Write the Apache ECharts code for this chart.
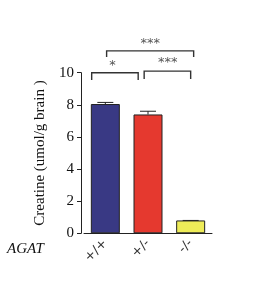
<!DOCTYPE html>
<html>
<head>
<meta charset="utf-8">
<script src="https://cdn.jsdelivr.net/npm/echarts@6/dist/echarts.min.js"></script>
<style>
  html, body { margin: 0; padding: 0; background: #fff; }
  #main { width: 273px; height: 291px; }
</style>
</head>
<body>
<div id="main"></div>
<script>
// data
var genotypes = ['+/+', '+/-', '-/-'];
var creatine = [8.05, 7.4, 0.8];
var errUpper = [8.15, 7.6, 0.8];
var barColors = ['#393984', '#e5392f', '#eeec58'];
var yTicks = [0, 2, 4, 6, 8, 10];
// significance brackets: [xStart, xEnd, yTop, yLeg] in category units
var brackets = [
  [-0.32, 0.77, 10.0, 9.54],
  [0.91, 2.0, 10.1, 9.6],
  [0.03, 2.07, 11.36, 10.97]
];
var starPos = [
  [0.17, 10.43],
  [1.46, 10.6],
  [1.05, 11.84]
];
var starText = ['*', '***', '***'];

var chart = echarts.init(document.getElementById('main'));

var option = {
  animation: false,
  grid: { left: 84, right: 61, top: 72.7, bottom: 57.7, containLabel: false },
  xAxis: [{
    type: 'category',
    data: genotypes,
    axisLine: { lineStyle: { color: '#222', width: 1 } },
    axisTick: { alignWithLabel: true, length: 4, lineStyle: { color: '#222' } },
    axisLabel: {
      rotate: 45, margin: 8, color: '#333',
      fontFamily: 'DejaVu Sans', fontSize: 13
    }
  }, {
    type: 'value', min: -0.5, max: 2.5, show: false
  }],
  yAxis: {
    type: 'value',
    min: 0, max: 10, interval: 2,
    offset: 3,
    name: 'Creatine (umol/g brain )',
    nameLocation: 'middle',
    nameGap: 33,
    nameTextStyle: { fontFamily: 'Liberation Serif', fontSize: 15, color: '#111' },
    axisLine: { show: true, onZero: false, lineStyle: { color: '#222', width: 1 } },
    axisTick: { show: true, length: 4, lineStyle: { color: '#222' } },
    axisLabel: {
      margin: 7, color: '#111',
      fontFamily: 'Liberation Serif', fontSize: 15,
      formatter: function (v) { return yTicks.indexOf(v) >= 0 ? v : ''; }
    },
    splitLine: { show: false }
  },
  graphic: [{
    type: 'text', left: 7, top: 242,
    style: { text: 'AGAT', fontFamily: 'Liberation Serif', fontStyle: 'italic', fontSize: 15, fill: '#111' }
  }],
  series: [{
    type: 'bar',
    barWidth: 29,
    data: creatine.map(function (v, i) {
      return { value: v, itemStyle: { color: barColors[i] } };
    }),
    itemStyle: { borderColor: '#222', borderWidth: 1 }
  }, {
    type: 'custom',
    clip: false,
    data: creatine,
    renderItem: function (params, api) {
      var i = params.dataIndex;
      var base = api.coord([i, creatine[i]]);
      var top = api.coord([i, errUpper[i]]);
      var w = 8;
      return {
        type: 'group',
        children: [{
          type: 'line',
          shape: { x1: top[0], y1: base[1], x2: top[0], y2: top[1] },
          style: { stroke: '#222', lineWidth: 1 }
        }, {
          type: 'line',
          shape: { x1: top[0] - w, y1: top[1], x2: top[0] + w, y2: top[1] },
          style: { stroke: '#222', lineWidth: 1 }
        }]
      };
    },
    z: 5
  }, {
    type: 'custom',
    xAxisIndex: 1,
    clip: false,
    data: brackets.map(function (b) { return b[0]; }),
    renderItem: function (params, api) {
      var br = brackets[params.dataIndex];
      var a = api.coord([br[0], br[2]]);
      var b = api.coord([br[1], br[2]]);
      var leg = api.coord([br[0], br[3]]);
      return {
        type: 'polyline',
        shape: { points: [[a[0], leg[1]], a, b, [b[0], leg[1]]] },
        style: { stroke: '#333', lineWidth: 1.4, fill: null }
      };
    }
  }, {
    type: 'custom',
    xAxisIndex: 1,
    clip: false,
    data: starPos.map(function (p) { return p[0]; }),
    renderItem: function (params, api) {
      var sp = starPos[params.dataIndex];
      var p = api.coord(sp);
      return {
        type: 'text',
        x: p[0], y: p[1],
        style: {
          text: starText[params.dataIndex],
          fontFamily: 'DejaVu Sans', fontSize: 13, fill: '#555',
          align: 'center', verticalAlign: 'middle'
        }
      };
    }
  }]
};

chart.setOption(option);
</script>
</body>
</html>
